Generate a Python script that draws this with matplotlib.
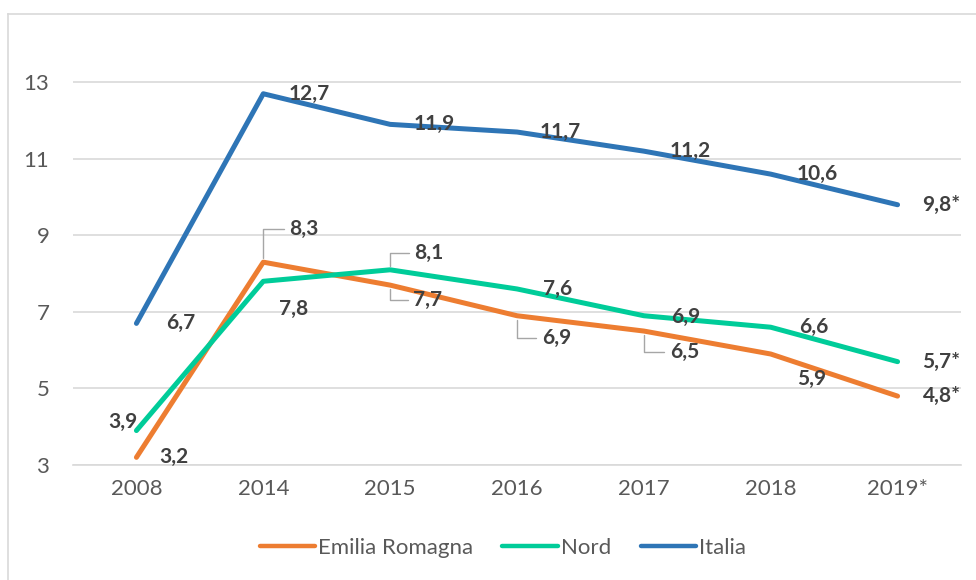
import matplotlib.pyplot as plt
from matplotlib.lines import Line2D

plt.rcParams['font.family'] = ['Lato', 'DejaVu Sans']

anni = ["2008", "2014", "2015", "2016", "2017", "2018", "2019*"]
emilia = [3.2, 8.3, 7.7, 6.9, 6.5, 5.9, 4.8]
nord = [3.9, 7.8, 8.1, 7.6, 6.9, 6.6, 5.7]
italia = [6.7, 12.7, 11.9, 11.7, 11.2, 10.6, 9.8]

# label offsets in pixels (dx, dy up), and which ones get a leader line
off_italia = [(44, 0), (46, 0), (44, 0), (43, 0), (46, 0), (46, 0), (44, 0)]
off_nord = [(-14, 9), (30, -28), (40, 17), (41, 0), (42, -1), (43, 0), (44, 0)]
off_emilia = [(37, 0), (42, 33), (39, -15), (41, -22), (42, -21), (41, -25), (44, 0)]
lead_nord = [False, False, True, False, False, False, False]
lead_emilia = [False, True, True, True, True, False, False]

c_emilia = "#ED7D31"
c_nord = "#00CC99"
c_italia = "#2E75B6"

fig = plt.figure(figsize=(9.76, 5.80), dpi=100)
ax = fig.add_axes([73 / 976, 1 - 465 / 580, (961 - 73) / 976, (465 - 44) / 580])

x = list(range(len(anni)))
for vals, col, lab in [(emilia, c_emilia, "Emilia Romagna"),
                       (nord, c_nord, "Nord"),
                       (italia, c_italia, "Italia")]:
    ax.plot(x, vals, color=col, lw=3.6, solid_capstyle="round",
            solid_joinstyle="round", label=lab, zorder=3)


def etichette(vals, offs, leads):
    for i, (v, (dx, dy), ld) in enumerate(zip(vals, offs, leads)):
        txt = f"{v:.1f}".replace(".", ",")
        if i == len(vals) - 1:
            txt += "*"
        if ld:
            # leader: from text's left edge horizontally, then vertically to point
            ax.annotate(txt, (i, v), xytext=(dx - 16, dy), textcoords="offset pixels",
                        ha="left", va="center", fontsize=15, fontweight="bold",
                        color="#404040", zorder=5,
                        arrowprops=dict(arrowstyle="-", color="#A6A6A6", lw=1,
                                        shrinkA=2, shrinkB=3,
                                        relpos=(0, 0.5),
                                        connectionstyle="angle,angleA=180,angleB=90,rad=0"))
        else:
            ax.annotate(txt, (i, v), xytext=(dx, dy), textcoords="offset pixels",
                        ha="center", va="center", fontsize=15, fontweight="bold",
                        color="#404040", zorder=5)


etichette(italia, off_italia, [False] * 7)
etichette(nord, off_nord, lead_nord)
etichette(emilia, off_emilia, lead_emilia)

ax.set_xlim(-0.5, len(anni) - 0.5)
ax.set_ylim(3, 14)
ax.set_yticks([3, 5, 7, 9, 11, 13])
ax.set_xticks(x)
ax.set_xticklabels(anni)
ax.grid(axis="y", color="#D9D9D9", lw=1.2)
ax.set_axisbelow(True)
for s in ["top", "right", "left"]:
    ax.spines[s].set_visible(False)
ax.spines["bottom"].set_color("#D9D9D9")
ax.spines["bottom"].set_linewidth(1.2)
ax.tick_params(length=0, labelsize=16, colors="#595959", pad=10)
ax.tick_params(axis="y", pad=17)

leg = ax.legend(loc="center", bbox_to_anchor=(503 / 976, 1 - 548 / 580),
                bbox_transform=fig.transFigure, ncol=3, frameon=False,
                fontsize=16, handlelength=2.5, handletextpad=0.15, columnspacing=1.3,
                labelcolor="#595959")
for h in leg.get_lines():
    h.set_linewidth(3.2)
    h.set_solid_capstyle("round")

# outer chart border (top and left edges visible)
fig.add_artist(Line2D([8 / 976, 1], [1 - 14 / 580] * 2, color="#D9D9D9", lw=1.2))
fig.add_artist(Line2D([8 / 976] * 2, [0, 1 - 14 / 580], color="#D9D9D9", lw=1.2))

fig.savefig("out.png", dpi=100)
